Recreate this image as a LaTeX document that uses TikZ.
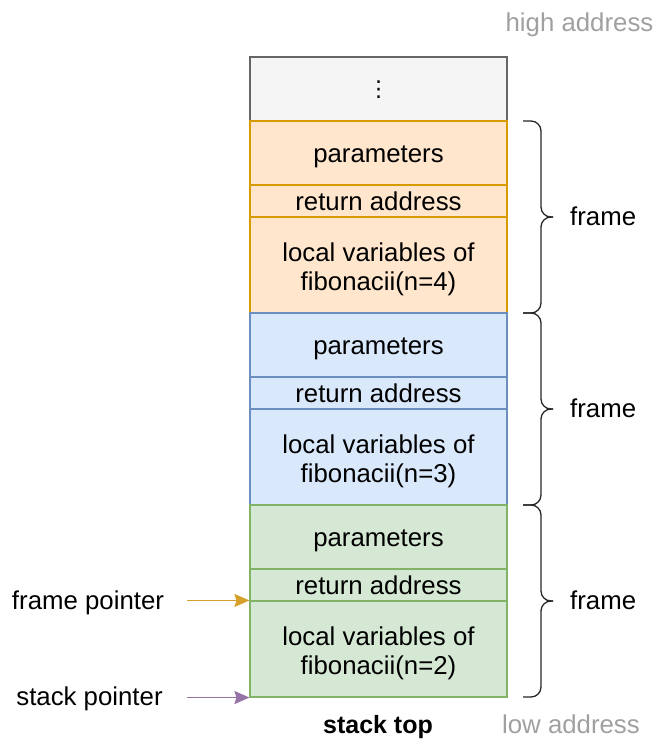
\documentclass[tikz,border=0pt]{standalone}
\usepackage{fontspec}
\setmainfont{Liberation Sans}
\newfontfamily\symfont{DejaVu Sans}
\usetikzlibrary{arrows.meta}

\definecolor{grayfill}{HTML}{F5F5F5}
\definecolor{graystroke}{HTML}{666666}
\definecolor{orfill}{HTML}{FFE6CC}
\definecolor{orstroke}{HTML}{D79B00}
\definecolor{blfill}{HTML}{DAE8FC}
\definecolor{blstroke}{HTML}{6C8EBF}
\definecolor{grfill}{HTML}{D5E8D4}
\definecolor{grstroke}{HTML}{82B366}
\definecolor{fparrow}{HTML}{D6A12A}
\definecolor{sparrow}{HTML}{9673A6}
\definecolor{addrgray}{HTML}{A0A0A0}

\tikzset{
  cell/.style={draw, line width=1.1pt, minimum width=257pt, inner sep=0pt,
    text height=23pt, text depth=5pt, align=center, font=\fontsize{25.8}{29}\selectfont},
  twoline/.style={text height=55pt, text depth=5pt},
  orcell/.style={cell, fill=orfill, draw=orstroke},
  blcell/.style={cell, fill=blfill, draw=blstroke},
  grcell/.style={cell, fill=grfill, draw=grstroke},
  txt/.style={inner sep=0pt, anchor=base, font=\fontsize{25.8}{29}\selectfont},
  addr/.style={txt, text=addrgray},
  brc/.style={line width=1.3pt, draw=black!85, rounded corners=10pt},
  ptr/.style={line width=1.8pt, arrows={-Stealth[length=15pt, width=13pt, inset=2pt]}},
}

\begin{document}
\begin{tikzpicture}[x=1pt, y=-1pt]
  \useasboundingbox (0,0) rectangle (654,742);

  % top of the stack (older frames)
  \node[cell, fill=grayfill, draw=graystroke, minimum height=64pt, text height=20pt,
        font=\symfont\fontsize{22}{26}\selectfont] (top) at (378.5,89) {⋮};

  % frame of fibonacii(n=4)
  \node[orcell, minimum height=64pt] (op) at (378.5,153) {parameters};
  \node[orcell, minimum height=32pt] (or) at (378.5,201) {return address};
  \node[orcell, twoline, minimum height=96pt] (ol) at (378.5,265) {local variables of\\fibonacii(n=4)};

  % frame of fibonacii(n=3)
  \node[blcell, minimum height=64pt] (bp) at (378.5,345) {parameters};
  \node[blcell, minimum height=32pt] (br) at (378.5,393) {return address};
  \node[blcell, twoline, minimum height=96pt] (bl) at (378.5,457) {local variables of\\fibonacii(n=3)};

  % frame of fibonacii(n=2)
  \node[grcell, minimum height=64pt] (gp) at (378.5,537) {parameters};
  \node[grcell, minimum height=32pt] (gr) at (378.5,585) {return address};
  \node[grcell, twoline, minimum height=96pt] (gl) at (378.5,649) {local variables of\\fibonacii(n=2)};

  % braces marking each frame
  \foreach \a/\b/\m in {121/313/217, 313/505/409, 505/697/601} {
    \draw[brc] (523,\a) -- (541,\a) -- (541,\m) -- (553,\m);
    \draw[brc] (523,\b) -- (541,\b) -- (541,\m) -- (553,\m);
  }
  \node[txt, anchor=base west] (f1) at (570,225) {frame};
  \node[txt, anchor=base west] (f2) at (570,417) {frame};
  \node[txt, anchor=base west] (f3) at (570,609) {frame};

  % pointers
  \node[txt] (fp) at (88,609) {frame pointer};
  \node[txt] (sp) at (89.5,705) {stack pointer};
  \coordinate (fpstart) at (187,0 |- gl.north west);
  \coordinate (spstart) at (187,0 |- gl.south west);
  \draw[ptr, color=fparrow] (fpstart) -- (gl.north west);
  \draw[ptr, color=sparrow] (spstart) -- (gl.south west);

  % address direction and stack top
  \node[addr] (hi) at (579.5,31.5) {high address};
  \node[addr] (lo) at (571,733.5) {low address};
  \node[txt, font=\fontsize{25}{29}\selectfont\bfseries] (st) at (378,733.5) {stack top};
\end{tikzpicture}
\end{document}
